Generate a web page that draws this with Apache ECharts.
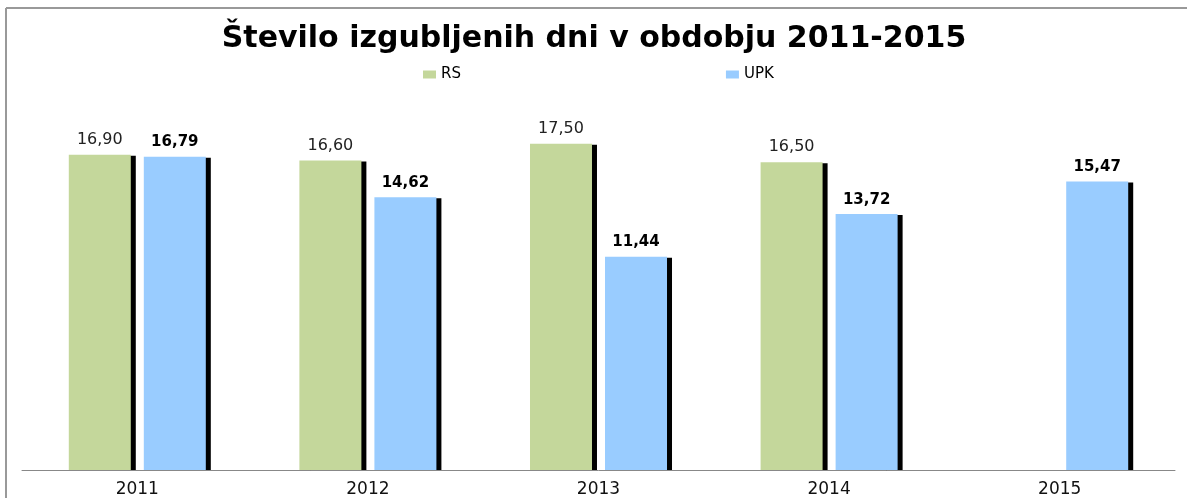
<!DOCTYPE html>
<html lang="sl">
<head>
	<meta charset="UTF-8">
	<title>Število izgubljenih dni</title>
	<script src="https://cdn.jsdelivr.net/npm/echarts@6/dist/echarts.min.js"></script>
	<style>
		html, body { margin: 0; padding: 0; background: #fff; }
	</style>
</head>
<body>
    <div id="main" style="width: 1188px;height:498px;"></div>
<script type="text/javascript">
    var years = ['2011', '2012', '2013', '2014', '2015'];
    var rsData = [16.90, 16.60, 17.50, 16.50, null];
    var upkData = [16.79, 14.62, 11.44, 13.72, 15.47];

    var myChart = echarts.init(document.getElementById('main'));

    // decimalna vejica
    function fmt(p) {
        return p.value == null ? '' : p.value.toFixed(2).replace('.', ',');
    }

    var barShadow = {
        shadowColor: '#000',
        shadowBlur: 0,
        shadowOffsetX: 5,
        shadowOffsetY: 1
    };

    myChart.setOption({
        animation: false,
        // okvir grafikona (samo zgoraj in levo je viden)
        graphic: [{
            type: 'line',
            shape: { x1: 6, y1: 8, x2: 1187, y2: 8 },
            style: { stroke: '#999', lineWidth: 2 },
            silent: true
        }, {
            type: 'line',
            shape: { x1: 6, y1: 8, x2: 6, y2: 498 },
            style: { stroke: '#999', lineWidth: 2 },
            silent: true
        }],
        title: {
            text: 'Število izgubljenih dni v obdobju 2011-2015',
            left: 'center',
            top: 19,
            textStyle: {
                fontFamily: 'DejaVu Sans',
                fontWeight: 'bold',
                fontSize: 30,
                color: '#000'
            }
        },
        legend: {
            data: ['RS', 'UPK'],
            top: 62,
            left: 418,
            itemWidth: 13,
            itemHeight: 8,
            itemGap: 265,
            icon: 'rect',
            textStyle: {
                fontFamily: 'DejaVu Sans',
                fontSize: 15,
                color: '#000'
            }
        },
        grid: {
            left: 22,
            right: 13,
            top: 97,
            bottom: 27,
            containLabel: false
        },
        xAxis: {
            type: 'category',
            data: years,
            z: 10,
            axisLine: { lineStyle: { color: '#888', width: 1 } },
            axisTick: { show: false },
            axisLabel: {
                margin: 11,
                fontFamily: 'DejaVu Sans',
                fontSize: 17,
                color: '#111'
            }
        },
        yAxis: {
            type: 'value',
            min: 0,
            max: 20,
            show: false,
            splitLine: { show: false }
        },
        series: [{
            name: 'RS',
            type: 'bar',
            data: rsData,
            barWidth: 62,
            barGap: '21%',
            itemStyle: Object.assign({ color: '#c4d79b' }, barShadow),
            label: {
                show: true,
                position: 'top',
                distance: 7,
                formatter: fmt,
                fontFamily: 'DejaVu Sans',
                fontSize: 16,
                color: '#222'
            }
        }, {
            name: 'UPK',
            type: 'bar',
            data: upkData,
            barWidth: 62,
            itemStyle: Object.assign({ color: '#99ccff' }, barShadow),
            label: {
                show: true,
                position: 'top',
                distance: 7,
                formatter: fmt,
                fontFamily: 'DejaVu Sans',
                fontWeight: 'bold',
                fontSize: 15,
                color: '#000'
            }
        }]
    });
</script>
</body>
</html>
